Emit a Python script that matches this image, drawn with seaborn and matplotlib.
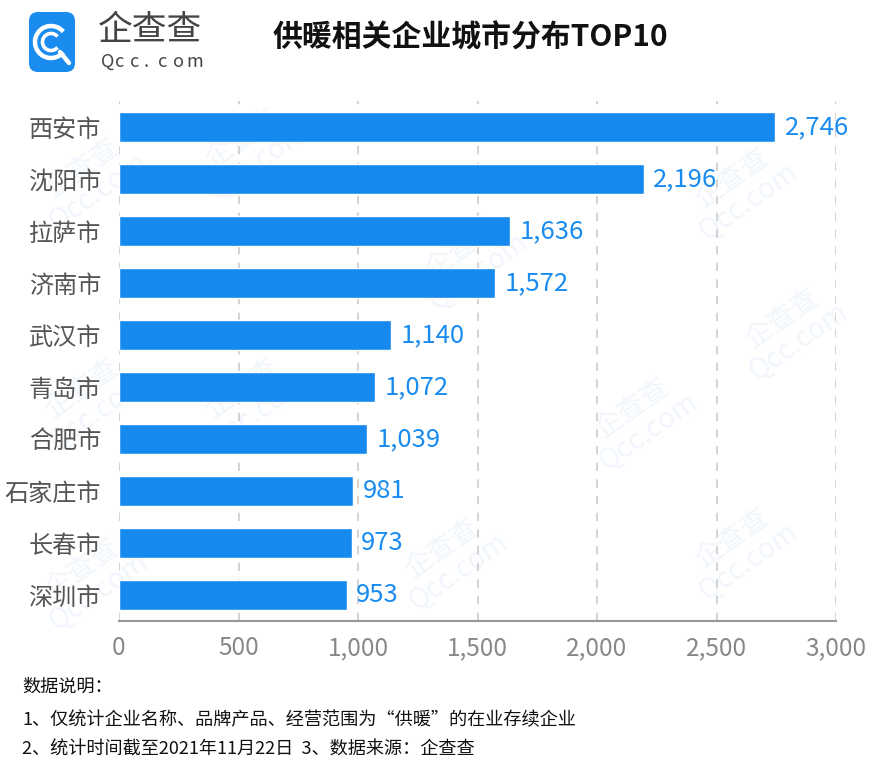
import matplotlib
matplotlib.use("Agg")
import matplotlib.pyplot as plt
import seaborn as sns
import pandas as pd
from matplotlib.patches import FancyBboxPatch, Arc

cities = ["西安市", "沈阳市", "拉萨市", "济南市", "武汉市", "青岛市", "合肥市", "石家庄市", "长春市", "深圳市"]
counts = [2746, 2196, 1636, 1572, 1140, 1072, 1039, 981, 973, 953]
xticks = [0, 500, 1000, 1500, 2000, 2500, 3000]
title = "供暖相关企业城市分布TOP10"
notes = ["数据说明：",
         "1、仅统计企业名称、品牌产品、经营范围为“供暖”的在业存续企业",
         "2、统计时间截至2021年11月22日  3、数据来源：企查查"]

sns.set_theme(style="white")
plt.rcParams['font.family'] = ['Noto Sans CJK SC', 'DejaVu Sans']

df = pd.DataFrame({"city": cities, "count": counts})

fig = plt.figure(figsize=(8.84, 7.65), dpi=100)

# faint watermarks
wax = fig.add_axes([0, 0, 1, 1], zorder=-1)
wax.set_xlim(0, 884)
wax.set_ylim(765, 0)
wax.axis("off")
for (wx, wy) in [(90, 180), (250, 150), (740, 190), (470, 260), (90, 400), (640, 420),
                 (250, 400), (790, 330), (450, 560), (740, 550), (90, 580)]:
    wax.text(wx, wy, "企查查\nQcc.com", rotation=35, fontsize=20, color="#f1f6fc",
             ha="center", va="center", linespacing=0.9)

ax = fig.add_axes([119/884, 1-621/765, (836-119)/884, (621-101)/765])
ax.patch.set_alpha(0)

BLUE = "#1689ee"
sns.barplot(data=df, x="count", y="city", color=BLUE, saturation=1, width=0.58, ax=ax, zorder=3)

ax.set_xlim(0, 3000)
ax.set_ylim(9.5, -0.5)
ax.set_xticks(xticks)
ax.set_xticklabels([f"{v:,}" for v in xticks])
ax.set_xlabel("")
ax.set_ylabel("")
ax.tick_params(axis="x", labelsize=17.5, colors="#888888", length=0, pad=10)
ax.tick_params(axis="y", labelsize=17.4, colors="#555555", length=0, pad=13)
for s in ["top", "right", "left"]:
    ax.spines[s].set_visible(False)
ax.spines["bottom"].set_color("#999999")
ax.spines["bottom"].set_linewidth(1.5)
ax.xaxis.grid(True, linestyle=(0, (5, 5)), color="#cccccc", linewidth=1.2, zorder=0)
ax.set_axisbelow(True)

for i, v in enumerate(counts):
    ax.text(v + 40, i, f"{v:,}", va="center", ha="left", fontsize=18.5, color="#1a8cf0",
            family=['Noto Sans CJK SC', 'DejaVu Sans'])

fig.text(470/884, 1-38/765, title, ha="center", va="center", fontsize=21.5, fontweight="bold", color="#111111")

# logo
lax = fig.add_axes([0, 1-90/765, 1, 90/765])
lax.set_xlim(0, 884)
lax.set_ylim(90, 0)
lax.axis("off")
lax.add_patch(FancyBboxPatch((29, 12), 46, 60, boxstyle="round,pad=0,rounding_size=9",
                             facecolor="#1a8cf0", edgecolor="none"))
lax.add_patch(Arc((51, 42), 32, 32, theta1=40, theta2=320, color="white", lw=3.2))
lax.add_patch(Arc((51, 42), 17, 17, theta1=40, theta2=320, color="white", lw=2.6))
lax.plot([60, 69], [52, 63], color="white", lw=3.2, solid_capstyle="round")
lax.text(98, 31, "企查查", fontsize=25, color="#444444", va="center", ha="left")
for k, ch in enumerate("Qcc.com"):
    lax.text(101 + k * 14.3, 62, ch, fontsize=13, color="#444444", va="center", ha="left")

ys = [687, 720, 750]
for t, y in zip(notes, ys):
    fig.text(22/884, 1-y/765, t, ha="left", va="center", fontsize=13.1, color="#111111", fontweight="medium")

fig.savefig("out.png", dpi=100, facecolor="white")
